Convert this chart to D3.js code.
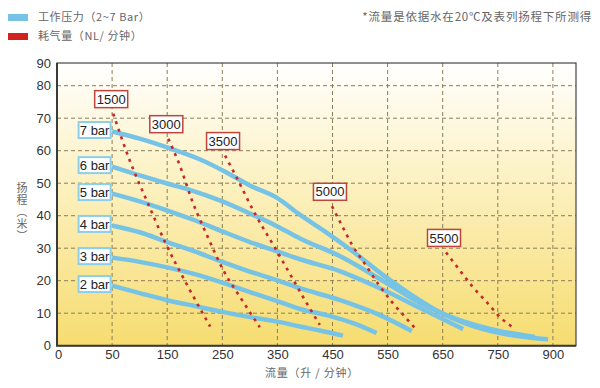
<!DOCTYPE html>
<html>
<head>
<meta charset="utf-8">
<title>流量曲线</title>
<script src="https://d3js.org/d3.v7.min.js"></script>
<style>
  body { margin: 0; background: #fff; }
  svg text { font-family: "Liberation Sans", Arial, sans-serif; }
  .cjk { font-family: "Noto Sans CJK SC", sans-serif; fill: #666; }
</style>
</head>
<body>
<div id="chart"></div>
<script>

	// axis ticks (the x axis is not linear: ticks are evenly spaced)
	var xTicks = [0, 50, 150, 250, 350, 450, 550, 650, 750, 900];
	var yTicks = [0, 10, 20, 30, 40, 50, 60, 70, 80, 90];

	// pressure curves: [flow, head]
	var bar7 = [[50,65.9],[100,63.7],[150,61.0],[210,57.3],[250,54.0],[300,49.3],[350,45.4],[390,40.4],[436,35.2],[487,29.0],[542,21.7],[591,15.9],[645,10.3],[723,5.1],[830,2.6],[887,2.0]];
	var bar6 = [[50,55.1],[100,52.4],[150,49.9],[188,48.1],[250,44.4],[300,40.7],[350,36.7],[391,33.0],[464,27.5],[542,19.9],[609,13.1],[681,7.9],[756,4.5],[851,2.7]];
	var bar5 = [[50,46.8],[100,44.4],[150,41.6],[200,38.6],[250,35.2],[300,31.9],[350,29.0],[391,26.6],[464,22.9],[536,17.7],[609,11.6],[687,5.1]];
	var bar4 = [[50,37.0],[100,34.9],[150,31.9],[200,29.0],[250,25.8],[300,22.8],[349,20.2],[391,17.7],[464,14.0],[536,9.4],[594,4.5]];
	var bar3 = [[50,27.1],[100,25.8],[150,24.1],[200,22.0],[250,19.4],[300,16.5],[350,13.7],[391,11.3],[446,9.1],[491,6.7],[530,3.9]];
	var bar2 = [[50,18.5],[100,16.2],[150,14.0],[200,12.2],[250,10.4],[300,8.8],[350,7.4],[391,5.9],[427,4.7],[469,3.1]];

	// air consumption curves (NL/min)
	var air1500 = [[52,71.4],[82,57.0],[115,43.8],[146,31.9],[188,18.1],[228,5.9]];
	var air3000 = [[152,63.7],[173,55.4],[195,44.7],[224,33.3],[250,23.8],[286,14.0],[318,5.7]];
	var air3500 = [[255,58.5],[277,51.4],[309,40.7],[346,30.0],[377,20.8],[400,14.0],[427,6.4]];
	var air5000 = [[449,42.9],[467,37.0],[485,31.2],[509,25.1],[533,19.0],[558,13.4],[582,8.8],[603,4.8]];
	var air5500 = [[656,28.7],[681,23.2],[705,18.0],[730,13.4],[756,8.8],[789,5.8]];

	var pressure = [
		{name: "7 bar", pts: bar7}, {name: "6 bar", pts: bar6}, {name: "5 bar", pts: bar5},
		{name: "4 bar", pts: bar4}, {name: "3 bar", pts: bar3}, {name: "2 bar", pts: bar2}
	];
	var air = [
		{name: "1500", pts: air1500}, {name: "3000", pts: air3000}, {name: "3500", pts: air3500},
		{name: "5000", pts: air5000}, {name: "5500", pts: air5500}
	];

	var W = 600, H = 388;
	// plot box (avoid the global name "top", it is window.top)
	var plotL = 57, plotR = 576, plotT = 63, plotB = 345.7;
	var step = 55.1;

	var svg = d3.select("#chart").append("svg")
		.attr("width", W).attr("height", H);

	// piecewise scales, one segment per tick
	var x = d3.scaleLinear()
		.domain(xTicks.concat([963]))
		.range(xTicks.map(function(d, i){ return plotL + step * i; }).concat([plotR]));
	var y = d3.scaleLinear()
		.domain([0, 80, 90])
		.range([plotB, 85.7, plotT]);

	// background gradient
	var grad = svg.append("defs").append("linearGradient")
		.attr("id", "bg").attr("x1", 0).attr("y1", 0).attr("x2", 0).attr("y2", 1);
	grad.append("stop").attr("offset", "0%").attr("stop-color", "#ffffff");
	grad.append("stop").attr("offset", "45%").attr("stop-color", "#fcf0bd");
	grad.append("stop").attr("offset", "100%").attr("stop-color", "#f6dc70");

	svg.append("rect")
		.attr("x", plotL).attr("y", plotT)
		.attr("width", plotR - plotL).attr("height", plotB - plotT)
		.attr("fill", "url(#bg)");

	// grid
	svg.append("g").selectAll("line")
		.data(xTicks.slice(1)).enter().append("line")
		.attr("x1", x).attr("x2", x)
		.attr("y1", plotT).attr("y2", plotB)
		.attr("stroke", "#8a7d58").attr("stroke-width", 1)
		.attr("stroke-dasharray", "4,3");
	svg.append("g").selectAll("line")
		.data(yTicks.slice(1, -1)).enter().append("line")
		.attr("y1", y).attr("y2", y)
		.attr("x1", plotL).attr("x2", plotR)
		.attr("stroke", "#8a7d58").attr("stroke-width", 1)
		.attr("stroke-dasharray", "4,3");

	// frame
	svg.append("rect")
		.attr("x", plotL).attr("y", plotT)
		.attr("width", plotR - plotL).attr("height", plotB - plotT)
		.attr("fill", "none").attr("stroke", "#444").attr("stroke-width", 1.2);
	svg.append("path")
		.attr("d", "M" + plotL + "," + plotT + "V" + plotB + "H" + plotR)
		.attr("fill", "none").attr("stroke", "#3a3a3a").attr("stroke-width", 2);

	// axes
	var yAxis = svg.append("g")
		.attr("transform", "translate(" + plotL + ",0)")
		.call(d3.axisLeft(y).tickValues(yTicks).tickSize(0).tickPadding(6).tickFormat(d3.format("d")));
	var xAxis = svg.append("g")
		.attr("transform", "translate(0," + plotB + ")")
		.call(d3.axisBottom(x).tickValues(xTicks).tickSize(0).tickPadding(4).tickFormat(d3.format("d")));
	[xAxis, yAxis].forEach(function(a){
		a.select(".domain").remove();
		a.selectAll("text").attr("font-size", 13).attr("fill", "#333")
			.attr("font-family", "'Liberation Sans', Arial, sans-serif");
	});
	xAxis.selectAll("text").filter(function(d){ return d === 0; }).attr("dx", 1);

	var line = d3.line()
		.x(function(d){ return x(d[0]); })
		.y(function(d){ return y(d[1]); })
		.curve(d3.curveMonotoneX);

	// pressure curves
	svg.append("g").selectAll("path")
		.data(pressure).enter().append("path")
		.attr("d", function(d){ return line(d.pts); })
		.attr("fill", "none").attr("stroke", "#76c3e5")
		.attr("stroke-width", 4.5).attr("stroke-linecap", "butt");

	// air consumption curves
	svg.append("g").selectAll("path")
		.data(air).enter().append("path")
		.attr("d", function(d){ return line(d.pts); })
		.attr("fill", "none").attr("stroke", "#c7282a")
		.attr("stroke-width", 2.6).attr("stroke-dasharray", "3,5");

	// pressure labels
	var pl = svg.append("g").selectAll("g")
		.data(pressure).enter().append("g")
		.attr("transform", function(d){
			return "translate(" + (x(d.pts[0][0]) - 17.5) + "," + (y(d.pts[0][1]) - 1.5) + ")";
		});
	pl.append("rect")
		.attr("x", -16).attr("y", -8).attr("width", 32).attr("height", 16)
		.attr("fill", "#fff").attr("stroke", "#8ccfeb").attr("stroke-width", 2);
	pl.append("text")
		.attr("text-anchor", "middle").attr("dy", "0.36em")
		.attr("font-size", 13).attr("fill", "#222")
		.text(function(d){ return d.name; });

	// air labels
	var al = svg.append("g").selectAll("g")
		.data(air).enter().append("g")
		.attr("transform", function(d){
			return "translate(" + (x(d.pts[0][0]) - 2) + "," + (y(d.pts[0][1]) - 14.5) + ")";
		});
	al.append("rect")
		.attr("x", -16.5).attr("y", -8.5).attr("width", 33).attr("height", 17)
		.attr("fill", "#fff").attr("stroke", "#c0443a").attr("stroke-width", 1.5);
	al.append("text")
		.attr("text-anchor", "middle").attr("dy", "0.36em")
		.attr("font-size", 13).attr("fill", "#222")
		.text(function(d){ return d.name; });

	// legend
	var legend = [
		{color: "#76c3e5", text: "工作压力（2~7 Bar）"},
		{color: "#d3211d", text: "耗气量（NL/ 分钟）"}
	];
	var lg = svg.append("g").selectAll("g")
		.data(legend).enter().append("g")
		.attr("transform", function(d, i){ return "translate(8," + (12 + i * 19) + ")"; });
	lg.append("rect").attr("width", 20).attr("height", 7).attr("y", 2)
		.attr("fill", function(d){ return d.color; });
	lg.append("text").attr("class", "cjk")
		.attr("x", 30).attr("y", 5.5).attr("dy", "0.36em")
		.attr("font-size", 11).attr("letter-spacing", 0.6)
		.text(function(d){ return d.text; });

	svg.append("text").attr("class", "cjk")
		.attr("x", 592).attr("y", 17).attr("dy", "0.36em")
		.attr("text-anchor", "end").attr("font-size", 11.5).attr("letter-spacing", 0.8)
		.text("*流量是依据水在20℃及表列扬程下所测得");

	// axis titles
	svg.append("text").attr("class", "cjk")
		.attr("x", 312).attr("y", 373).attr("dy", "0.36em")
		.attr("text-anchor", "middle").attr("font-size", 11).attr("letter-spacing", 0.8)
		.text("流量（升 / 分钟）");

	svg.append("text").attr("class", "cjk")
		.attr("x", 22).attr("y", 182)
		.style("writing-mode", "vertical-rl")
		.attr("font-size", 11).attr("letter-spacing", 1)
		.text("扬程（米）");

</script>
</body>
</html>
